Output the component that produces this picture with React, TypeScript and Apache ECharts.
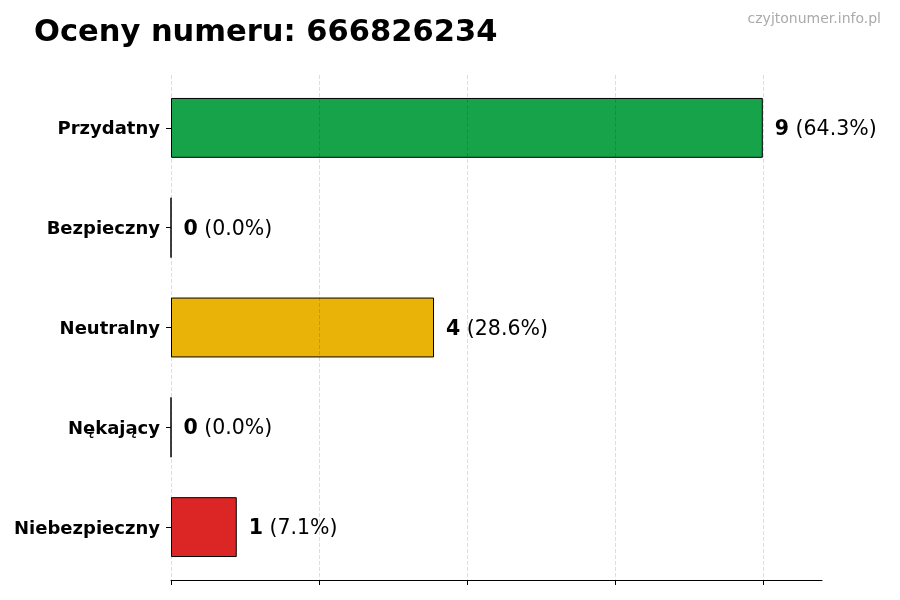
import { useEffect, useRef } from 'react';
import * as echarts from 'echarts';

const categories = ['Przydatny', 'Bezpieczny', 'Neutralny', 'Nękający', 'Niebezpieczny'];
const counts = [9, 0, 4, 0, 1];
const barColors = ['#16a34a', '#2563eb', '#eab308', '#ea580c', '#dc2626'];
const gridTicks = { min: 0, max: 9, interval: 2.25 };
const axisMax = 9.9;

const FONT = "'DejaVu Sans', sans-serif";

export default function App() {
  const chartRef = useRef<HTMLDivElement>(null);

  useEffect(() => {
    if (!chartRef.current) return;
    const chart = echarts.init(chartRef.current, null, { renderer: 'svg' });
    const total = counts.reduce((a, b) => a + b, 0);

    const option = {
      animation: false,
      textStyle: { fontFamily: FONT },
      graphic: [
        {
          type: 'text',
          left: 34,
          top: 15,
          style: {
            text: 'Oceny numeru: 666826234',
            font: `bold 30.5px ${FONT}`,
            fill: '#000',
          },
        },
        {
          type: 'text',
          right: 19,
          top: 11,
          style: {
            text: 'czyjtonumer.info.pl',
            font: `14px ${FONT}`,
            fill: '#aaaaaa',
          },
        },
      ],
      grid: [
        { left: 171, right: 78, top: 78, height: 499 },
        { left: 171, right: 137, top: 75, bottom: 20 },
      ],
      xAxis: [
        {
          type: 'value',
          gridIndex: 0,
          min: 0,
          max: axisMax,
          offset: 3,
          axisLine: { show: true, lineStyle: { color: '#000', width: 1 } },
          axisTick: { show: false },
          axisLabel: { show: false },
          splitLine: { show: false },
        },
        {
          type: 'value',
          gridIndex: 1,
          min: gridTicks.min,
          max: gridTicks.max,
          interval: gridTicks.interval,
          z: 10,
          axisLine: { show: false },
          axisTick: { show: true, length: 5, lineStyle: { color: '#000', width: 1 } },
          axisLabel: { show: false },
          splitLine: {
            show: true,
            lineStyle: { color: 'rgba(0,0,0,0.17)', type: [4, 2], width: 0.8 },
          },
        },
      ],
      yAxis: [
        {
          type: 'category',
          gridIndex: 0,
          inverse: true,
          data: categories,
          axisLine: { show: false },
          axisTick: {
            show: true,
            alignWithLabel: true,
            length: 5,
            lineStyle: { color: '#000', width: 1 },
          },
          axisLabel: {
            margin: 11,
            fontSize: 18,
            fontWeight: 'bold',
            color: '#000',
            fontFamily: FONT,
          },
        },
        {
          type: 'value',
          gridIndex: 1,
          min: 0,
          max: 1,
          show: false,
        },
      ],
      series: [
        {
          type: 'bar',
          xAxisIndex: 0,
          yAxisIndex: 0,
          barWidth: '60%',
          data: counts.map((v, i) => ({
            value: v,
            itemStyle: { color: barColors[i], borderColor: '#000', borderWidth: 1 },
          })),
          label: {
            show: true,
            position: 'right',
            distance: 12,
            fontSize: 20.5,
            color: '#000',
            fontFamily: FONT,
            formatter: (p: any) => {
              const pct = total ? ((p.value / total) * 100).toFixed(1) : '0.0';
              return `{b|${p.value}} {n|(${pct}%)}`;
            },
            rich: {
              b: { fontSize: 20.5, fontWeight: 'bold', color: '#000', fontFamily: FONT },
              n: { fontSize: 20.5, color: '#000', fontFamily: FONT },
            },
          },
        },
      ],
    };

    chart.setOption(option);
    return () => chart.dispose();
  }, []);

  return (
    <div
      ref={chartRef}
      style={{ position: 'fixed', left: 0, top: 0, width: 900, height: 600 }}
    />
  );
}
